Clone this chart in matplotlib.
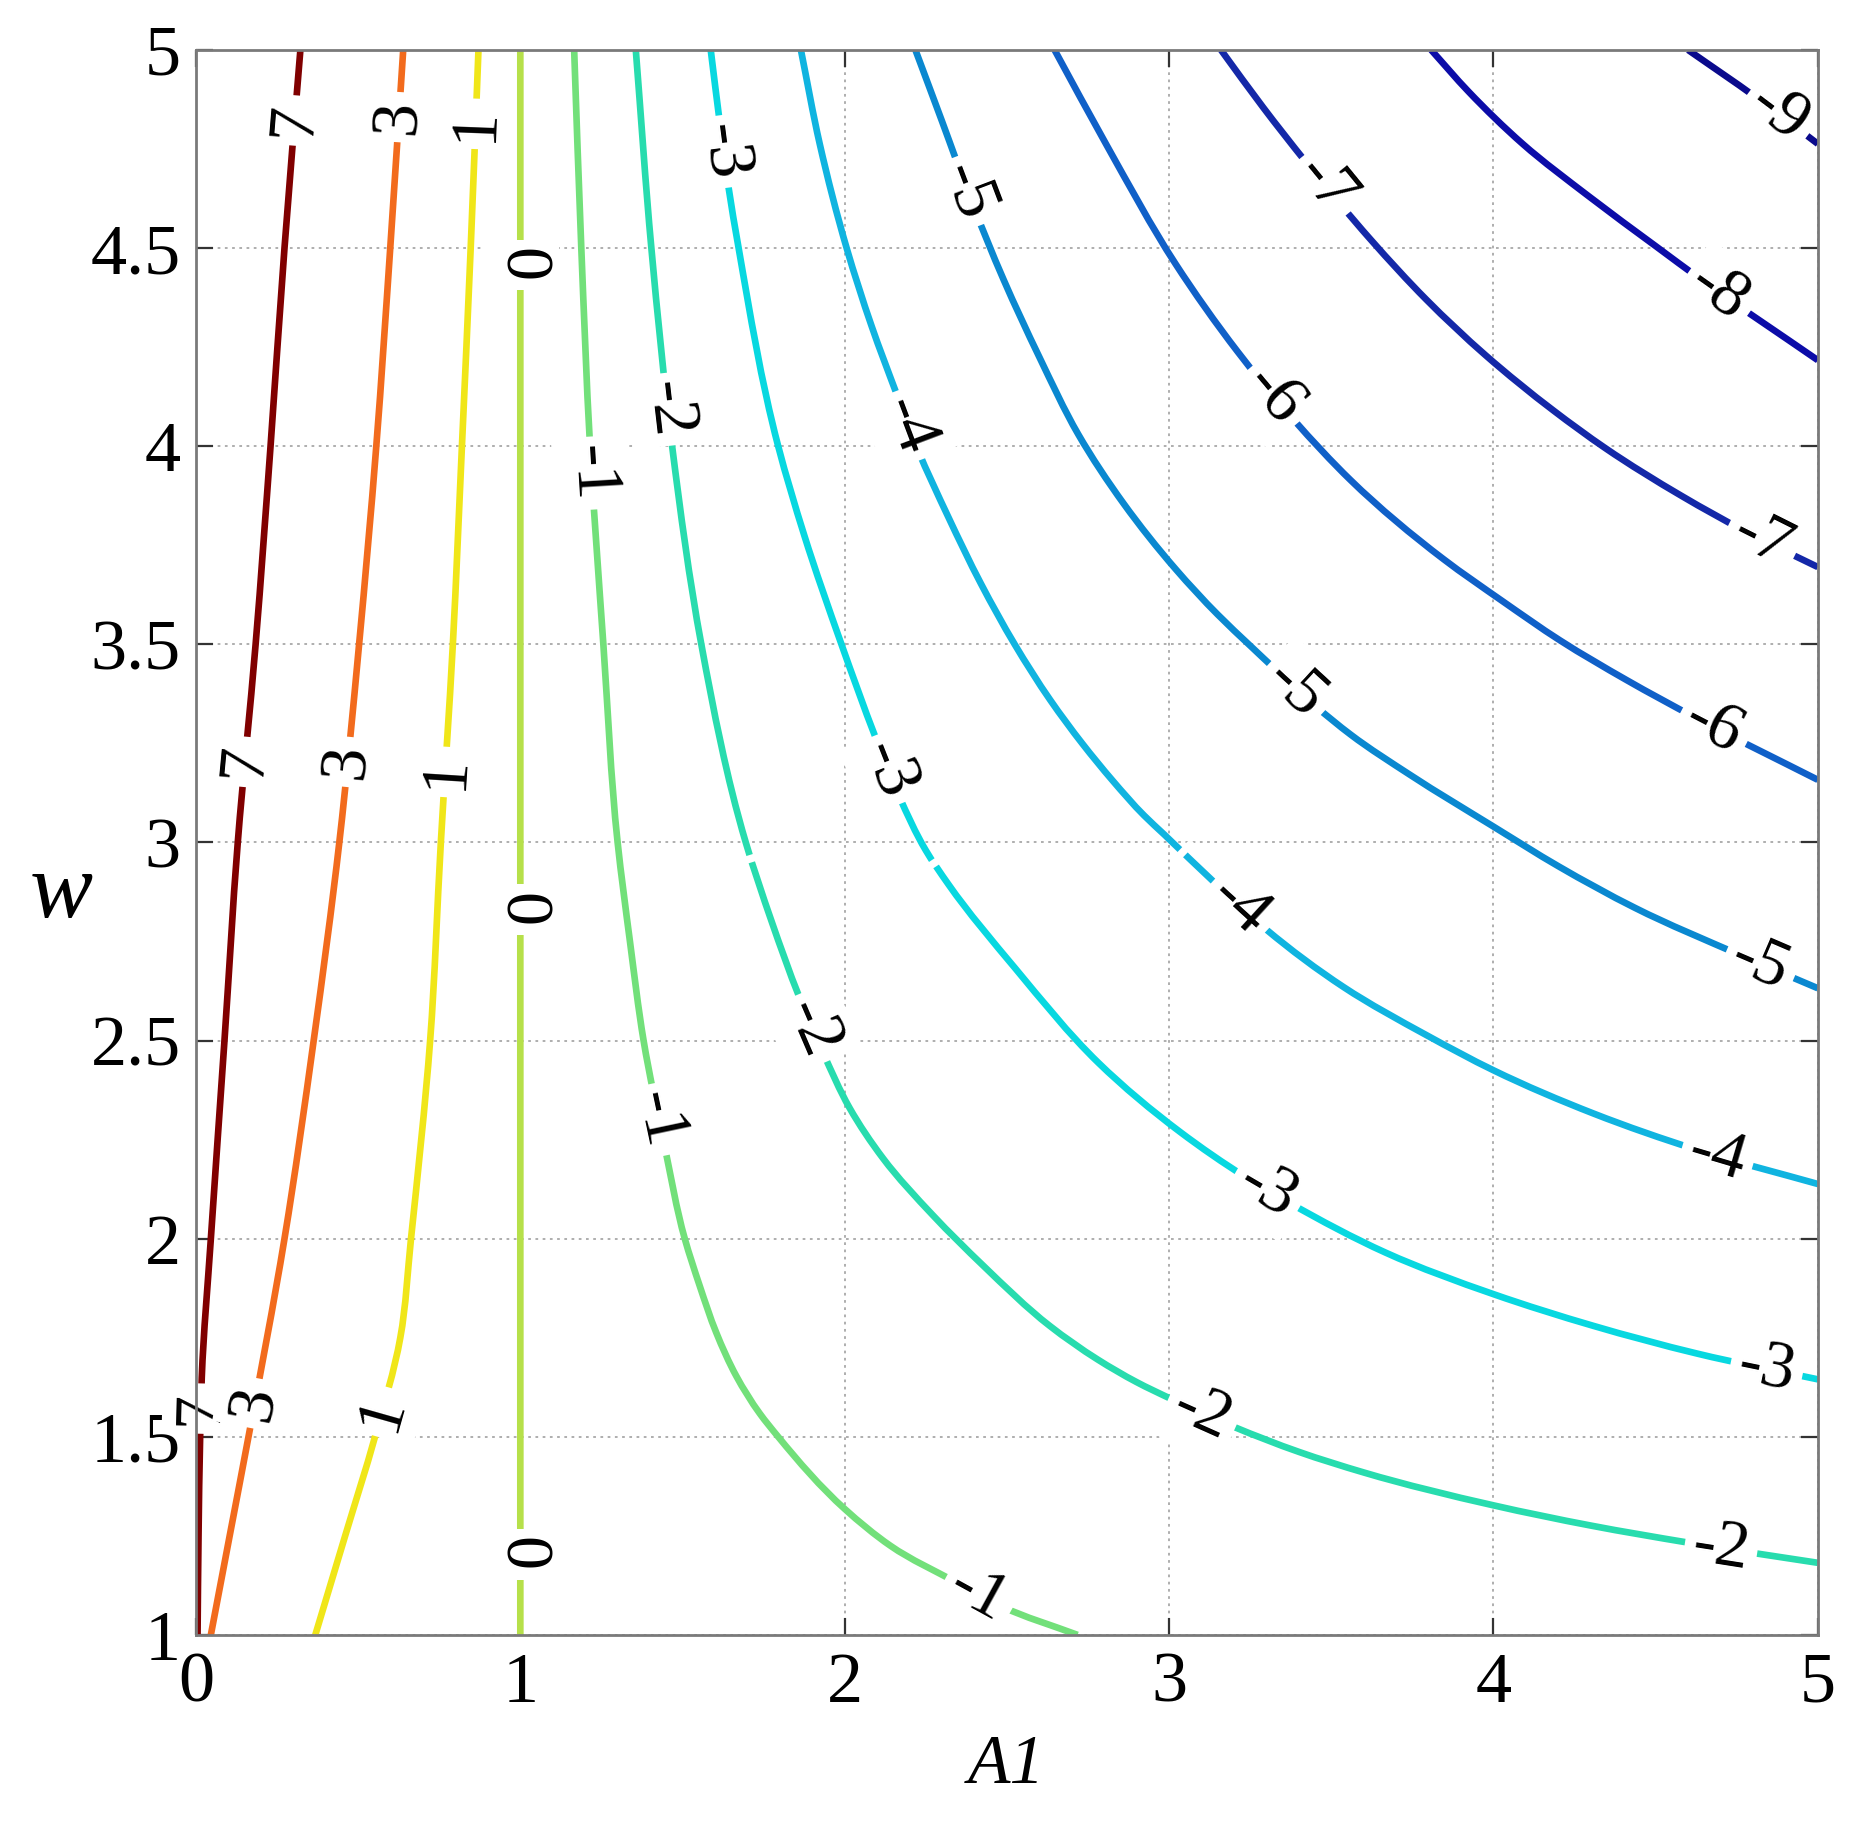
import numpy as np
import matplotlib
matplotlib.use("Agg")
import matplotlib.pyplot as plt
from matplotlib.path import Path
from matplotlib.patches import PathPatch

# ---------------- data ----------------
levels = [7, 3, 1, 0, -1, -2, -3, -4, -5, -6, -7, -8, -9]

A1_L7 = [0.322, 0.273, 0.230, 0.184, 0.129, 0.088, 0.046, 0.018, 0.013, 0.008, 0.005]
W_L7 = [5.0, 4.5, 4.0, 3.5, 3.0, 2.5, 2.0, 1.65, 1.5, 1.25, 1.0]

A1_L3 = [0.639, 0.599, 0.556, 0.503, 0.442, 0.363, 0.273, 0.162, 0.104, 0.046]
W_L3 = [5.0, 4.5, 4.0, 3.5, 3.0, 2.5, 2.0, 1.5, 1.25, 1.0]

A1_L1 = [0.871, 0.847, 0.820, 0.792, 0.755, 0.722, 0.663, 0.630, 0.552, 0.460, 0.368]
W_L1 = [5.0, 4.5, 4.0, 3.5, 3.0, 2.5, 2.0, 1.75, 1.5, 1.25, 1.0]

A1_L0 = [1.0, 1.0]
W_L0 = [5.0, 1.0]

A1_Lm1 = [1.166, 1.188, 1.215, 1.256, 1.300, 1.338, 1.380, 1.445, 1.507, 1.553, 1.604, 1.666,
          1.738, 1.795, 2.000, 2.141, 2.346, 2.481, 2.718]
W_Lm1 = [5.0, 4.5, 4.0, 3.5, 3.0, 2.75, 2.5, 2.233, 2.0, 1.881, 1.763, 1.653,
         1.559, 1.5, 1.318, 1.225, 1.132, 1.073, 1.0]

A1_Lm2 = [1.356, 1.404, 1.468, 1.558, 1.695, 1.775, 1.86, 1.933, 2.015, 2.118, 2.272, 2.427,
          2.632, 2.78, 2.90, 3.00, 3.20, 3.40, 3.60, 4.00, 4.30, 4.60, 5.00]
W_Lm2 = [5.0, 4.5, 4.0, 3.5, 3.0, 2.8, 2.61, 2.47, 2.33, 2.203, 2.059, 1.932,
         1.78, 1.695, 1.638, 1.598, 1.525, 1.462, 1.41, 1.327, 1.276, 1.233, 1.182]

A1_Lm3 = [1.587, 1.615, 1.641, 1.673, 1.795, 1.875, 1.990, 2.096, 2.167, 2.25, 2.32, 2.526, 2.782,
          3.033, 3.237, 3.372, 3.667, 4.0, 4.308, 4.628, 5.0]
W_Lm3 = [5.0, 4.816, 4.658, 4.5, 4.0, 3.776, 3.5, 3.263, 3.118, 2.98, 2.894, 2.682, 2.444,
         2.27, 2.155, 2.09, 1.965, 1.86, 1.78, 1.71, 1.645]

A1_Lm4 = [1.865, 1.923, 2.006, 2.083, 2.16, 2.224, 2.319, 2.420, 2.524, 2.634, 2.733, 2.825,
          2.923, 2.985, 3.145, 3.3, 3.538, 3.795, 4.0, 4.308, 4.628, 5.0]
W_Lm4 = [5.0, 4.763, 4.5, 4.303, 4.132, 3.994, 3.822, 3.653, 3.5, 3.359, 3.249, 3.157,
         3.068, 3.02, 2.895, 2.78, 2.635, 2.513, 2.425, 2.316, 2.224, 2.138]

A1_Lm5 = [2.218, 2.30, 2.39, 2.49, 2.60, 2.72, 2.86, 3.02, 3.15, 3.252, 3.33, 3.45, 3.56,
          3.744, 4.0, 4.2, 4.436, 4.763, 5.0]
W_Lm5 = [5.0, 4.82, 4.62, 4.42, 4.225, 4.03, 3.855, 3.69, 3.575, 3.495, 3.435, 3.345, 3.272,
         3.17, 3.04, 2.94, 2.835, 2.715, 2.632]

A1_Lm6 = [2.647, 2.808, 3.02, 3.21, 3.385, 3.56, 3.846, 4.026, 4.205, 4.41, 4.622, 5.0]
W_Lm6 = [5.0, 4.759, 4.46, 4.24, 4.066, 3.914, 3.715, 3.61, 3.51, 3.41, 3.315, 3.158]

A1_Lm7 = [3.16, 3.29, 3.419, 3.623, 3.793, 3.975, 4.185, 4.345, 4.579, 4.788, 5.0]
W_Lm7 = [5.0, 4.855, 4.72, 4.52, 4.37, 4.23, 4.09, 3.995, 3.875, 3.78, 3.695]

A1_Lm8 = [3.808, 3.923, 4.09, 4.295, 4.5, 4.641, 5.0]
W_Lm8 = [5.0, 4.895, 4.763, 4.63, 4.505, 4.42, 4.217]

A1_Lm9 = [4.60, 4.81, 5.0]
W_Lm9 = [5.0, 4.88, 4.763]

# inline label positions (A1, w)
LAB_L7 = [(0.30, 4.82), (0.15, 3.2), (0.02, 1.57)]
LAB_L3 = [(0.62, 4.83), (0.47, 3.2), (0.20, 1.58)]
LAB_L1 = [(0.86, 4.81), (0.77, 3.18), (0.59, 1.56)]
LAB_L0 = [(1.0, 4.44), (1.0, 2.82), (1.0, 1.17)]
LAB_Lm1 = [(1.20, 3.93), (1.41, 2.30), (2.41, 1.10)]
LAB_Lm2 = [(1.45, 4.09), (1.90, 2.53), (3.10, 1.56), (4.70, 1.22)]
LAB_Lm3 = [(1.60, 4.74), (2.12, 3.18), (3.30, 2.12), (4.84, 1.67)]
LAB_Lm4 = [(2.19, 4.05), (3.22, 2.84), (4.69, 2.21)]
LAB_Lm5 = [(2.37, 4.64), (3.38, 3.38), (4.82, 2.69)]
LAB_Lm6 = [(3.31, 4.12), (4.68, 3.29)]
LAB_Lm7 = [(3.48, 4.66), (4.82, 3.75)]
LAB_Lm8 = [(4.69, 4.38)]
LAB_Lm9 = [(4.88, 4.84)]

# small breaks in some lines (no text)
GAP_Lm2 = [(1.71, 2.96)]
GAP_Lm3 = [(2.28, 2.95)]
GAP_Lm4 = [(3.06, 2.99), (3.15, 2.89)]

x_ticks = [0, 1, 2, 3, 4, 5]
x_ticklabels = ["0", "1", "2", "3", "4", "5"]
y_ticks = [1, 1.5, 2, 2.5, 3, 3.5, 4, 4.5, 5]
y_ticklabels = ["1", "1.5", "2", "2.5", "3", "3.5", "4", "4.5", "5"]

# ---------------- styles ----------------
line_colors = {
    7: "#800000", 3: "#f26b1d", 1: "#f0e619", 0: "#b6e04a", -1: "#72e07a",
    -2: "#28dcae", -3: "#08d8e0", -4: "#10b4e0", -5: "#0a88d0", -6: "#1060c8",
    -7: "#1428a8", -8: "#0c0ca8", -9: "#0a0a8c",
}

curves = {
    7: (A1_L7, W_L7, LAB_L7, []),
    3: (A1_L3, W_L3, LAB_L3, []),
    1: (A1_L1, W_L1, LAB_L1, []),
    0: (A1_L0, W_L0, LAB_L0, []),
    -1: (A1_Lm1, W_Lm1, LAB_Lm1, []),
    -2: (A1_Lm2, W_Lm2, LAB_Lm2, GAP_Lm2),
    -3: (A1_Lm3, W_Lm3, LAB_Lm3, GAP_Lm3),
    -4: (A1_Lm4, W_Lm4, LAB_Lm4, GAP_Lm4),
    -5: (A1_Lm5, W_Lm5, LAB_Lm5, []),
    -6: (A1_Lm6, W_Lm6, LAB_Lm6, []),
    -7: (A1_Lm7, W_Lm7, LAB_Lm7, []),
    -8: (A1_Lm8, W_Lm8, LAB_Lm8, []),
    -9: (A1_Lm9, W_Lm9, LAB_Lm9, []),
}

plt.rcParams["font.family"] = ["Liberation Serif", "DejaVu Serif"]

fig = plt.figure(figsize=(18.66, 18.30), dpi=100)
ax = fig.add_axes([0.1050, 0.1066, 0.8692, 0.8661])
ax.set_xlim(0, 5)
ax.set_ylim(1, 5)
ax.set_xticks(x_ticks)
ax.set_xticklabels(x_ticklabels)
ax.set_yticks(y_ticks)
ax.set_yticklabels(y_ticklabels)
ax.tick_params(direction="in", length=12, width=1.6, color="#333333",
               top=True, right=True, labelsize=52)
ax.tick_params(axis="x", pad=12)
ax.tick_params(axis="y", pad=11)
ax.grid(True, color="#a8a8a8", linestyle=(0, (1.5, 2.5)), linewidth=1.3)
ax.set_axisbelow(True)
for sp in ax.spines.values():
    sp.set_color("#7a7a7a")
    sp.set_linewidth(2.0)
    sp.set_zorder(4)

ax.text(0.5, -0.083, "A1", transform=ax.transAxes, ha="center", va="center",
        fontsize=50, style="italic")
ax.text(-0.083, 0.467, "w", transform=ax.transAxes, ha="center", va="center",
        fontsize=68, style="italic")

T = ax.transData
Tinv = T.inverted()


def smooth_path(a1, w):
    """Cubic Bezier path passing through the read points (control points in display space)."""
    P = T.transform(np.column_stack([a1, w]))
    n = len(P)
    tang = np.zeros_like(P)
    for i in range(n):
        if i == 0:
            d = P[1] - P[0]
        elif i == n - 1:
            d = P[-1] - P[-2]
        else:
            u1 = P[i] - P[i - 1]
            u2 = P[i + 1] - P[i]
            l1, l2 = np.hypot(*u1), np.hypot(*u2)
            d = (u1 / l1) * l2 + (u2 / l2) * l1
        tang[i] = d / np.hypot(*d)
    verts = [P[0]]
    codes = [Path.MOVETO]
    segs = []
    for i in range(n - 1):
        L = np.hypot(*(P[i + 1] - P[i]))
        c1 = P[i] + tang[i] * L / 3
        c2 = P[i + 1] - tang[i + 1] * L / 3
        verts += [c1, c2, P[i + 1]]
        codes += [Path.CURVE4] * 3
        segs.append((P[i], c1, c2, P[i + 1]))
    return Path(Tinv.transform(np.array(verts)), codes), segs


def locate(segs, target):
    """Nearest position on the drawn curve to target (display) and tangent angle there."""
    best = None
    t = np.linspace(0, 1, 60)[:, None]
    for (p0, c1, c2, p1) in segs:
        b = ((1 - t) ** 3) * p0 + 3 * ((1 - t) ** 2) * t * c1 + 3 * (1 - t) * t ** 2 * c2 + t ** 3 * p1
        db = 3 * ((1 - t) ** 2) * (c1 - p0) + 6 * (1 - t) * t * (c2 - c1) + 3 * t ** 2 * (p1 - c2)
        dist = np.hypot(*(b - target).T)
        k = int(np.argmin(dist))
        if best is None or dist[k] < best[0]:
            best = (dist[k], b[k], db[k])
    _, pos, d = best
    ang = np.degrees(np.arctan2(d[1], d[0]))
    if ang > 90:
        ang -= 180
    elif ang < -90:
        ang += 180
    return pos, ang


for lev in levels:
    a1, w, labs, gaps = curves[lev]
    path, segs = smooth_path(a1, w)
    ax.add_patch(PathPatch(path, facecolor="none", edgecolor=line_colors[lev],
                           lw=4.8, capstyle="butt", zorder=2.0))
    for (la, lw_) in labs:
        pos, ang = locate(segs, T.transform((la, lw_)))
        xd, yd = Tinv.transform(pos)
        ax.text(xd, yd, str(lev), fontsize=49, ha="center", va="center",
                rotation=ang, rotation_mode="anchor", zorder=3,
                bbox=dict(boxstyle="square,pad=0.12", fc="white", ec="none"))
    for (ga, gw) in gaps:
        pos, ang = locate(segs, T.transform((ga, gw)))
        xd, yd = Tinv.transform(pos)
        ax.text(xd, yd, " ", fontsize=22, ha="center", va="center",
                rotation=ang, rotation_mode="anchor", zorder=2.5,
                bbox=dict(boxstyle="square,pad=0.0", fc="white", ec="none"))

fig.savefig("out.png", dpi=100)
